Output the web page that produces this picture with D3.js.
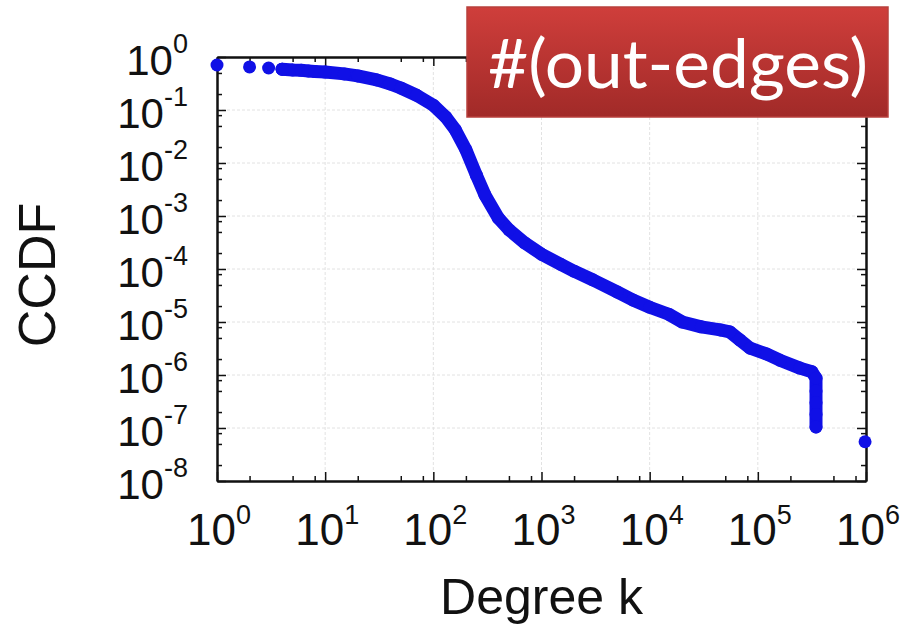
<!DOCTYPE html>
<html lang="en">

<head>
  <meta charset="UTF-8">
  <title>CCDF out-edges</title>
  <script src="https://d3js.org/d3.v7.min.js"></script>
  <style>
    body { margin: 0; background: #fff; }
    .grid line { stroke: #e2e2e2; stroke-width: 1px; stroke-dasharray: 3,2; }
    .axis path, .axis line { stroke: #111; }
    .tick-label { font-family: "Liberation Sans", Arial, sans-serif; fill: #111; }
    .axis-title { font-family: "Liberation Sans", Arial, sans-serif; fill: #111; }
  </style>
</head>

<body>
  <script>
    // tick exponents (labels are 10^exp)
    const xExps = [0, 1, 2, 3, 4, 5, 6];
    const yExps = [0, -1, -2, -3, -4, -5, -6, -7, -8];
    const minorMults = [2, 5, 8];

    // separate low-degree points and the outlier at the far right
    const soloK = [1, 2, 3, 4, 980000];
    const soloP = [0.706, 0.65, 0.62, 0.59, 5.5e-8];

    // dense part of the distribution (reads as a continuous band)
    const bandK = [4, 5, 6, 7, 8, 10, 15, 20, 30, 40, 50, 70, 100, 130, 160, 200, 250, 300, 400, 500,
      700, 1000, 1500, 2000, 3000, 5000, 7000, 10000, 15000, 20000, 30000, 45000, 55000, 68000,
      85000, 120000, 160000, 245000, 316000, 345000, 345000, 345000, 345000, 345000];
    const bandP = [0.59, 0.57, 0.56, 0.545, 0.535, 0.52, 0.48, 0.44, 0.37, 0.31, 0.26, 0.19, 0.123,
      0.074, 0.042, 0.0178, 0.0059, 0.0025, 9.1e-4, 5.5e-4, 3.1e-4, 1.9e-4, 1.23e-4, 9.1e-5, 6.2e-5,
      3.7e-5, 2.6e-5, 1.9e-5, 1.4e-5, 1.0e-5, 8.1e-6, 7.1e-6, 6.5e-6, 4.6e-6, 3.2e-6, 2.5e-6,
      1.9e-6, 1.35e-6, 1.15e-6, 8.7e-7, 5e-7, 3e-7, 1.8e-7, 1.05e-7];

    const W = 905, H = 629;
    const plot = { left: 217, right: 866, top: 57, bottom: 481 };
    const dotColor = "#1010e6";

    const svg = d3.select("body").append("svg")
      .attr("width", W)
      .attr("height", H);

    const x = d3.scaleLog().domain([1, 1e6]).range([plot.left, plot.right]);
    const y = d3.scaleLog().domain([1e-8, 1]).range([plot.bottom, plot.top]);

    const xMajor = xExps.map(e => Math.pow(10, e));
    const yMajor = yExps.map(e => Math.pow(10, e));
    const xMinor = [];
    xExps.slice(0, -1).forEach(e => minorMults.forEach(m => xMinor.push(m * Math.pow(10, e))));
    const yMinor = [];
    yExps.slice(1).forEach(e => minorMults.forEach(m => yMinor.push(m * Math.pow(10, e))));

    // grid
    const grid = svg.append("g").attr("class", "grid");
    grid.selectAll(".gx").data(xMajor.slice(1, -1)).enter().append("line")
      .attr("x1", d => x(d)).attr("x2", d => x(d))
      .attr("y1", plot.top).attr("y2", plot.bottom);
    grid.selectAll(".gy").data(yMajor.slice(1, -1)).enter().append("line")
      .attr("x1", plot.left).attr("x2", plot.right)
      .attr("y1", d => y(d)).attr("y2", d => y(d));

    // axes on all four sides, ticks pointing inward
    function addAxis(gen, tx, ty, vals, size) {
      svg.append("g").attr("class", "axis")
        .attr("transform", "translate(" + tx + "," + ty + ")")
        .call(gen.tickValues(vals).tickSize(size).tickSizeOuter(0).tickFormat(""))
        .call(g => g.selectAll("text").remove())
        .call(g => g.select(".domain").attr("stroke-width", 2))
        .call(g => g.selectAll(".tick line").attr("stroke-width", 1.5));
    }
    addAxis(d3.axisBottom(x), 0, plot.bottom, xMajor, -9);
    addAxis(d3.axisBottom(x), 0, plot.bottom, xMinor, -5);
    addAxis(d3.axisTop(x), 0, plot.top, xMajor, -9);
    addAxis(d3.axisTop(x), 0, plot.top, xMinor, -5);
    addAxis(d3.axisLeft(y), plot.left, 0, yMajor, -9);
    addAxis(d3.axisLeft(y), plot.left, 0, yMinor, -5);
    addAxis(d3.axisRight(y), plot.right, 0, yMajor, -9);
    addAxis(d3.axisRight(y), plot.right, 0, yMinor, -5);

    // tick labels with superscripts
    const xl = svg.selectAll(".xl").data(xExps).enter().append("text")
      .attr("class", "tick-label")
      .attr("x", d => x(Math.pow(10, d)) + 2)
      .attr("y", plot.bottom + 64)
      .attr("text-anchor", "middle");
    xl.append("tspan").attr("font-size", 44).text("10");
    xl.append("tspan").attr("font-size", 27).attr("dy", -21).text(d => d);

    const yl = svg.selectAll(".yl").data(yExps).enter().append("text")
      .attr("class", "tick-label")
      .attr("x", 188)
      .attr("y", d => y(Math.pow(10, d)) + 18)
      .attr("text-anchor", "end");
    yl.append("tspan").attr("font-size", 42).text("10");
    yl.append("tspan").attr("font-size", 27).attr("dy", -22).text(d => d);

    // axis titles
    svg.append("text").attr("class", "axis-title")
      .attr("x", (plot.left + plot.right) / 2)
      .attr("y", 614)
      .attr("text-anchor", "middle")
      .attr("font-size", 50)
      .text("Degree k");
    svg.append("text").attr("class", "axis-title")
      .attr("transform", "translate(55," + 275 + ") rotate(-90)")
      .attr("text-anchor", "middle")
      .attr("font-size", 52)
      .text("CCDF");

    // data
    const band = bandK.map((k, i) => ({ k: k, p: bandP[i] }));
    const solo = soloK.map((k, i) => ({ k: k, p: soloP[i] }));

    svg.append("path")
      .datum(band)
      .attr("fill", "none")
      .attr("stroke", dotColor)
      .attr("stroke-width", 13)
      .attr("stroke-linejoin", "round")
      .attr("stroke-linecap", "round")
      .attr("d", d3.line().x(d => x(d.k)).y(d => y(d.p)));

    svg.selectAll(".dot").data(band.concat(solo)).enter().append("circle")
      .attr("cx", d => x(d.k))
      .attr("cy", d => y(d.p))
      .attr("r", 6.5)
      .attr("fill", dotColor);

    // red label box
    const defs = svg.append("defs");
    const grad = defs.append("linearGradient").attr("id", "redg")
      .attr("x1", 0).attr("y1", 0).attr("x2", 0).attr("y2", 1);
    grad.append("stop").attr("offset", "0%").attr("stop-color", "#cf3e3b");
    grad.append("stop").attr("offset", "100%").attr("stop-color", "#a12a28");

    svg.append("rect")
      .attr("x", 467).attr("y", 7)
      .attr("width", 421).attr("height", 110)
      .attr("fill", "url(#redg)")
      .attr("stroke", "#b8403c")
      .attr("stroke-width", 1.5);
    svg.append("text")
      .attr("x", 488).attr("y", 88)
      .attr("font-family", "Lato, 'Open Sans', sans-serif")
      .attr("font-size", 68)
      .attr("fill", "#fff")
      .attr("textLength", 380)
      .attr("lengthAdjust", "spacingAndGlyphs")
      .text("#(out-edges)");
  </script>
</body>

</html>
